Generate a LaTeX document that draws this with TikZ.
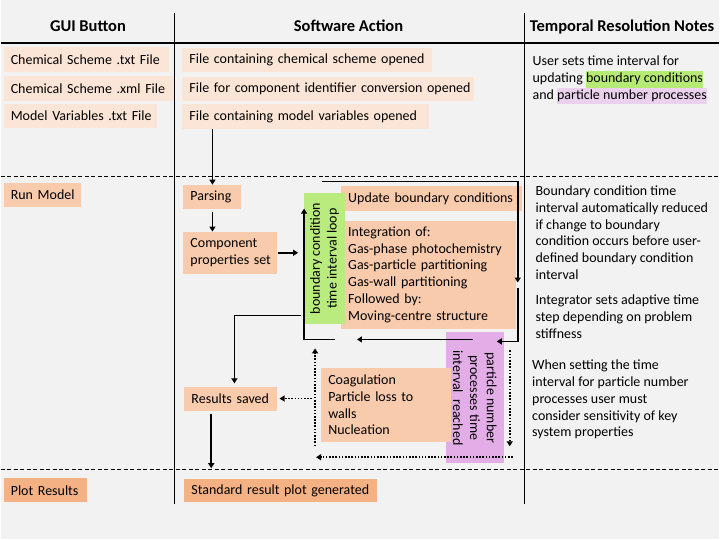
\documentclass[tikz,border=0pt]{standalone}
\usepackage{fontspec}
\setmainfont{Carlito}
\usetikzlibrary{arrows.meta}
\definecolor{fondo}{HTML}{F2F2F2}
\definecolor{salmonA}{HTML}{FBE5D6}
\definecolor{salmonB}{HTML}{F8CBAD}
\definecolor{salmonC}{HTML}{F4B183}
\definecolor{verde}{HTML}{B9EB7F}
\definecolor{lila}{HTML}{E3ADE7}
\definecolor{verdeT}{HTML}{B5EA75}
\definecolor{lilaT}{HTML}{EBD1EE}
\setlength{\fboxsep}{0pt}
\begin{document}
\begin{tikzpicture}[x=1pt,y=-1pt,
    font=\fontsize{14}{16.8}\selectfont,
    caja/.style={anchor=north west, inner xsep=7pt, inner ysep=0pt, align=left},
    flecha/.style={line width=1.6pt, -{Triangle[length=5pt,width=6pt]}},
    punteada/.style={flecha, dash pattern=on 1.6pt off 1.6pt},
    separador/.style={line width=0.8pt, dash pattern=on 4pt off 2.5pt},
    titulo/.style={font=\fontsize{16.5}{20}\selectfont\bfseries, anchor=base},
    nota/.style={anchor=base west, align=left, inner sep=0pt}]
      % Fondo y columnas
      \fill[fondo] (0,0) rectangle (720,540);
      \draw[line width=1.2pt] (0,43) -- (720,43);
      \draw[line width=1.2pt] (174,13) -- (174,505);
      \draw[line width=1.2pt] (524.5,13) -- (524.5,505);
      \draw[separador] (0,177) -- (720,177);
      \draw[separador] (0,470) -- (720,470);

      % Encabezados
      \node[titulo] (hGui) at (87.5,32) {GUI Button};
      \node[titulo] (hSoft) at (348.5,32) {Software Action};
      \node[titulo] (hNotas) at (622.5,32) {Temporal Resolution Notes};

      % Botones
      \node[caja, fill=salmonA, text width=151pt, minimum height=25pt] (bChemTxt) at (3,47) {\mbox{Chemical Scheme .txt File}};
      \node[caja, fill=salmonA, text width=156pt, minimum height=25pt] (bChemXml) at (3,76) {\mbox{Chemical Scheme .xml File}};
      \node[caja, fill=salmonA, text width=139pt, minimum height=24pt] (bModVar) at (3,104) {\mbox{Model Variables .txt File}};
      \node[caja, fill=salmonB, text width=63pt, minimum height=24pt] (bRun) at (3,183) {\mbox{Run Model}};
      \node[caja, fill=salmonC, text width=69pt, minimum height=24pt] (bPlot) at (3,479) {\mbox{Plot Results}};

      % Acciones
      \node[caja, fill=salmonA, text width=236pt, minimum height=24pt] (bFchem) at (182,48) {\mbox{File containing chemical scheme opened}};
      \node[caja, fill=salmonA, text width=278pt, minimum height=24pt] (bFcomp) at (182,77) {\mbox{File for component identifier conversion opened}};
      \node[caja, fill=salmonA, text width=233pt, minimum height=25pt] (bFmod) at (182,104) {\mbox{File containing model variables opened}};
      \node[caja, fill=salmonB, text width=44pt, minimum height=24pt] (bParse) at (183,185) {\mbox{Parsing}};
      \node[caja, fill=salmonB, text width=80pt, minimum height=42pt] (bComp) at (183,232) {\mbox{Component}\\\mbox{properties set}};
      \node[caja, fill=salmonB, text width=79pt, minimum height=24pt] (bResult) at (184,387) {\mbox{Results saved}};
      \node[caja, fill=salmonC, text width=179pt, minimum height=23pt] (bPlotStd) at (184,480) {\mbox{Standard result plot generated}};
      \node[caja, fill=salmonB, text width=167pt, minimum height=25pt] (bUpdate) at (341,186) {\mbox{Update boundary conditions}};
      \node[caja, fill=salmonB, text width=161pt, minimum height=108pt] (bInteg) at (341,221) {\mbox{Integration of:}\\\mbox{Gas-phase photochemistry}\\\mbox{Gas-particle partitioning}\\\mbox{Gas-wall partitioning}\\\mbox{Followed by:}\\\mbox{Moving-centre structure}};

      % Bucles
      \node[fill=verde, rotate=90, minimum width=132pt, minimum height=41pt, inner sep=0pt, align=center] (lazoBC) at (324.5,259) {boundary condition\\time interval loop};
      \node[fill=lila, rotate=-90, minimum width=131pt, minimum height=58pt, inner sep=0pt, align=center] (lazoPN) at (475,398.5) {particle number\\processes time\\interval\ \ reached};
      \node[caja, fill=salmonB, text width=116pt, minimum height=75pt] (bCoag) at (321,368) {\mbox{Coagulation}\\\mbox{Particle loss to}\\\mbox{walls}\\\mbox{Nucleation}};

      % Flechas
      \draw[flecha] (bParse.north |- bFmod.south) -- (bParse.north);
      \draw[flecha, shorten <=2.5pt] (bParse.south) -- (bParse.south |- bComp.north);
      \coordinate (subida) at (304,209);
      \coordinate (esquina) at (335,340);
      \draw[flecha, shorten >=6pt] (bComp.east) -- (bComp.east -| subida);
      \draw[flecha] (esquina) -| (subida);
      \coordinate (arribaA) at (322,182);
      \coordinate (arribaB) at (518,182);
      \coordinate (arribaC) at (518,283);
      \draw[flecha] (arribaA) -- (arribaB) -- (arribaC);
      \coordinate (bajaA) at (518,288);
      \coordinate (bajaB) at (497,342);
      \draw[flecha] (bajaA) |- (bajaB);
      \coordinate (vueltaA) at (473,340);
      \coordinate (vueltaB) at (357,340);
      \draw[flecha] (vueltaA) -- (vueltaB);
      \coordinate (salida) at (301,316);
      \draw[flecha, shorten >=3pt] (salida) -| ([xshift=3.5pt]bResult.north);
      \coordinate (fin) at (211,469);
      \draw[flecha, shorten <=3pt] (bResult.south -| fin) -- (fin);

      % Flechas punteadas
      \coordinate (pA) at (510,351);
      \coordinate (pB) at (510,447);
      \coordinate (pC) at (513,458);
      \coordinate (pD) at (316,458);
      \coordinate (pE) at (315,447);
      \coordinate (pF) at (315,349);
      \draw[punteada] (pA) -- (pB);
      \draw[punteada] (pC) -- (pD);
      \draw[punteada] (pE) -- (pF);
      \draw[punteada, shorten <=3pt, shorten >=2pt] (bResult.east -| pE) -- (bResult.east);

      % Notas (base = ultima linea)
      \node[nota] (n1) at (532.7,99.6) {User sets time interval for\\updating \colorbox{verdeT}{\strut boundary conditions}\\and \colorbox{lilaT}{\strut particle number processes}};
      \node[nota] (n2) at (535.7,280) {Boundary condition time\\interval automatically reduced\\if change to boundary\\condition occurs before user-\\defined boundary condition\\interval};
      \node[nota] (n3) at (535.7,338.6) {Integrator sets adaptive time\\step depending on problem\\stiffness};
      \node[nota] (n4) at (532.3,437.5) {When setting the time\\interval for particle number\\processes user must\\consider sensitivity of key\\system properties};
\end{tikzpicture}
\end{document}
